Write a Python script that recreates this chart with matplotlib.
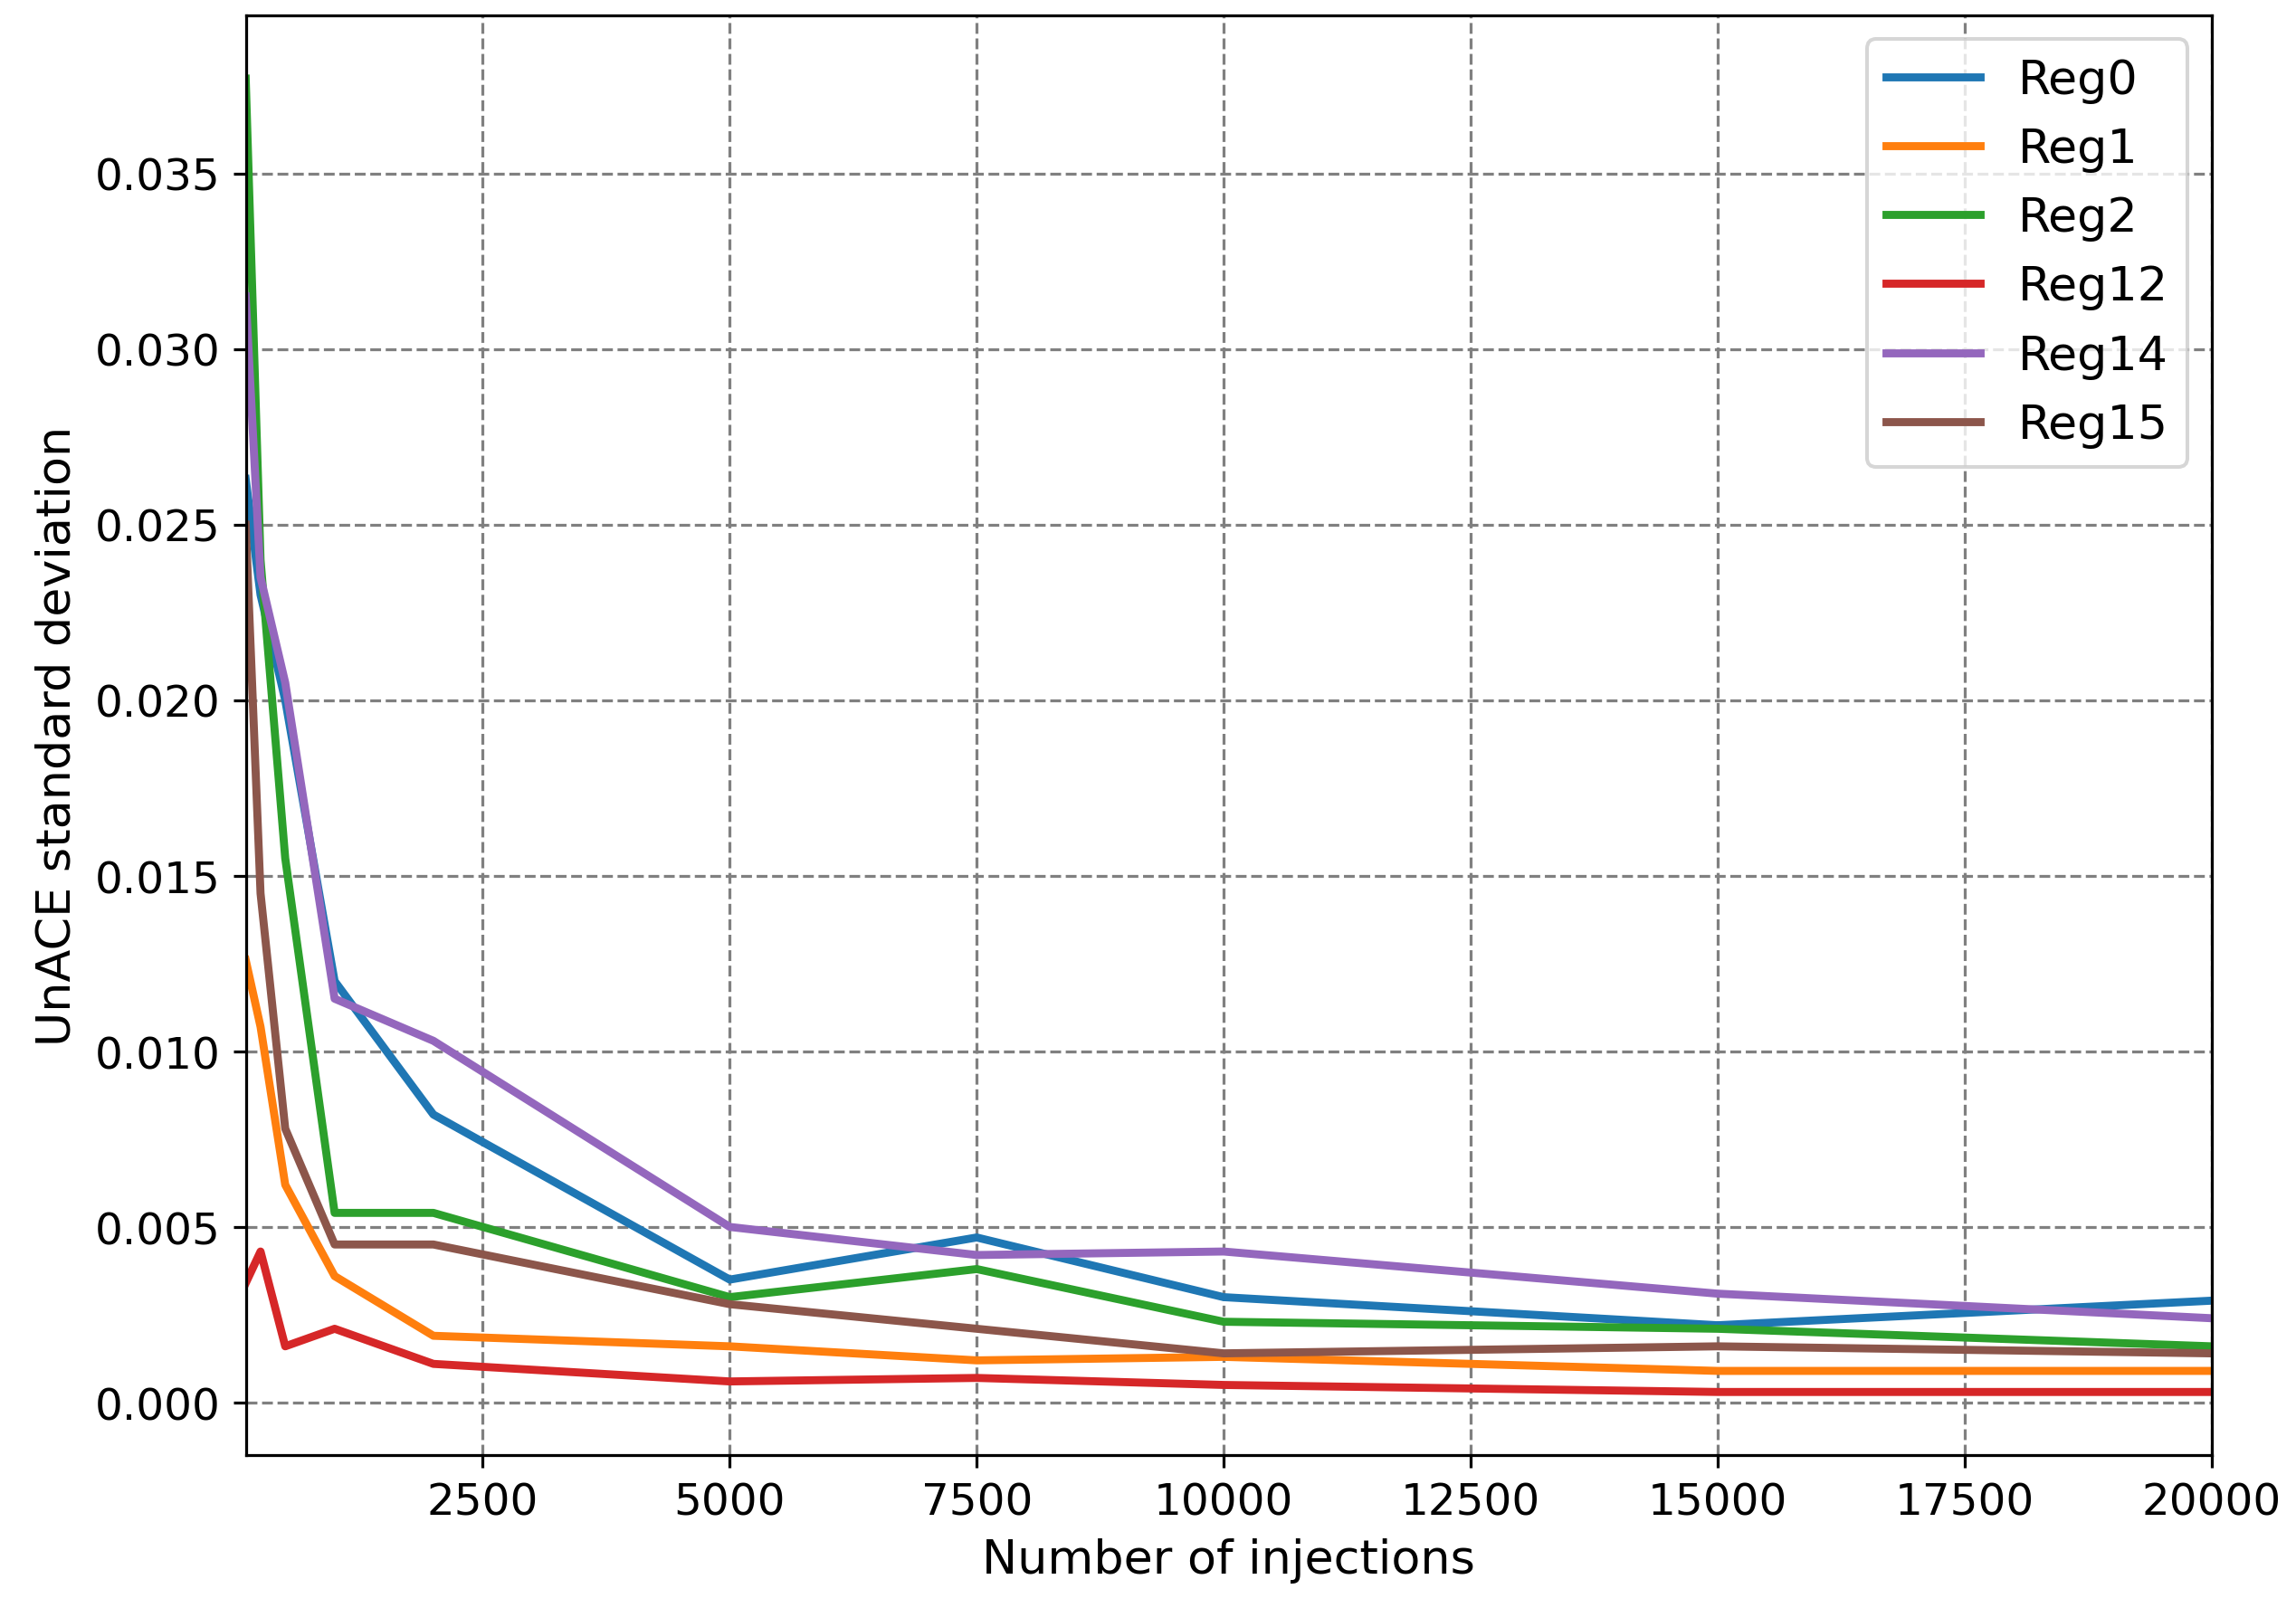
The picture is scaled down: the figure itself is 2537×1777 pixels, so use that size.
import matplotlib.pyplot as plt

x = [100, 250, 500, 1000, 2000, 5000, 7500, 10000, 15000, 20000]
reg0 = [0.0263, 0.0230, 0.0200, 0.0120, 0.0082, 0.0035, 0.0047, 0.0030, 0.0022, 0.0029]
reg1 = [0.0126, 0.0107, 0.0062, 0.0036, 0.0019, 0.0016, 0.0012, 0.0013, 0.0009, 0.0009]
reg2 = [0.0377, 0.0240, 0.0155, 0.0054, 0.0054, 0.0030, 0.0038, 0.0023, 0.0021, 0.0016]
reg12 = [0.0034, 0.0043, 0.0016, 0.0021, 0.0011, 0.0006, 0.0007, 0.0005, 0.0003, 0.0003]
reg14 = [0.0315, 0.0235, 0.0205, 0.0115, 0.0103, 0.0050, 0.0042, 0.0043, 0.0031, 0.0024]
reg15 = [0.0250, 0.0145, 0.0078, 0.0045, 0.0045, 0.0028, 0.0021, 0.0014, 0.0016, 0.0014]

series = [("Reg0", reg0), ("Reg1", reg1), ("Reg2", reg2),
          ("Reg12", reg12), ("Reg14", reg14), ("Reg15", reg15)]

plt.rcParams['font.size'] = 12
fig, ax = plt.subplots(figsize=(8.75, 6.13), dpi=290)
for name, y in series:
    ax.plot(x, y, lw=2.2, label=name)

ax.set_xlim(100, 20000)
ax.set_ylim(-0.0015, 0.0395)
ax.set_xticks([2500, 5000, 7500, 10000, 12500, 15000, 17500, 20000])
ax.set_yticks([0.0, 0.005, 0.01, 0.015, 0.02, 0.025, 0.03, 0.035])
ax.yaxis.set_major_formatter(plt.FormatStrFormatter('%.3f'))
ax.grid(True, ls='--', color='gray', lw=0.8)
ax.set_xlabel("Number of injections", fontsize=13)
ax.set_ylabel("UnACE standard deviation", fontsize=13)
ax.legend(loc='upper right', fontsize=13)
fig.subplots_adjust(left=0.107, right=0.963, top=0.99, bottom=0.095)
fig.savefig("out.png")
